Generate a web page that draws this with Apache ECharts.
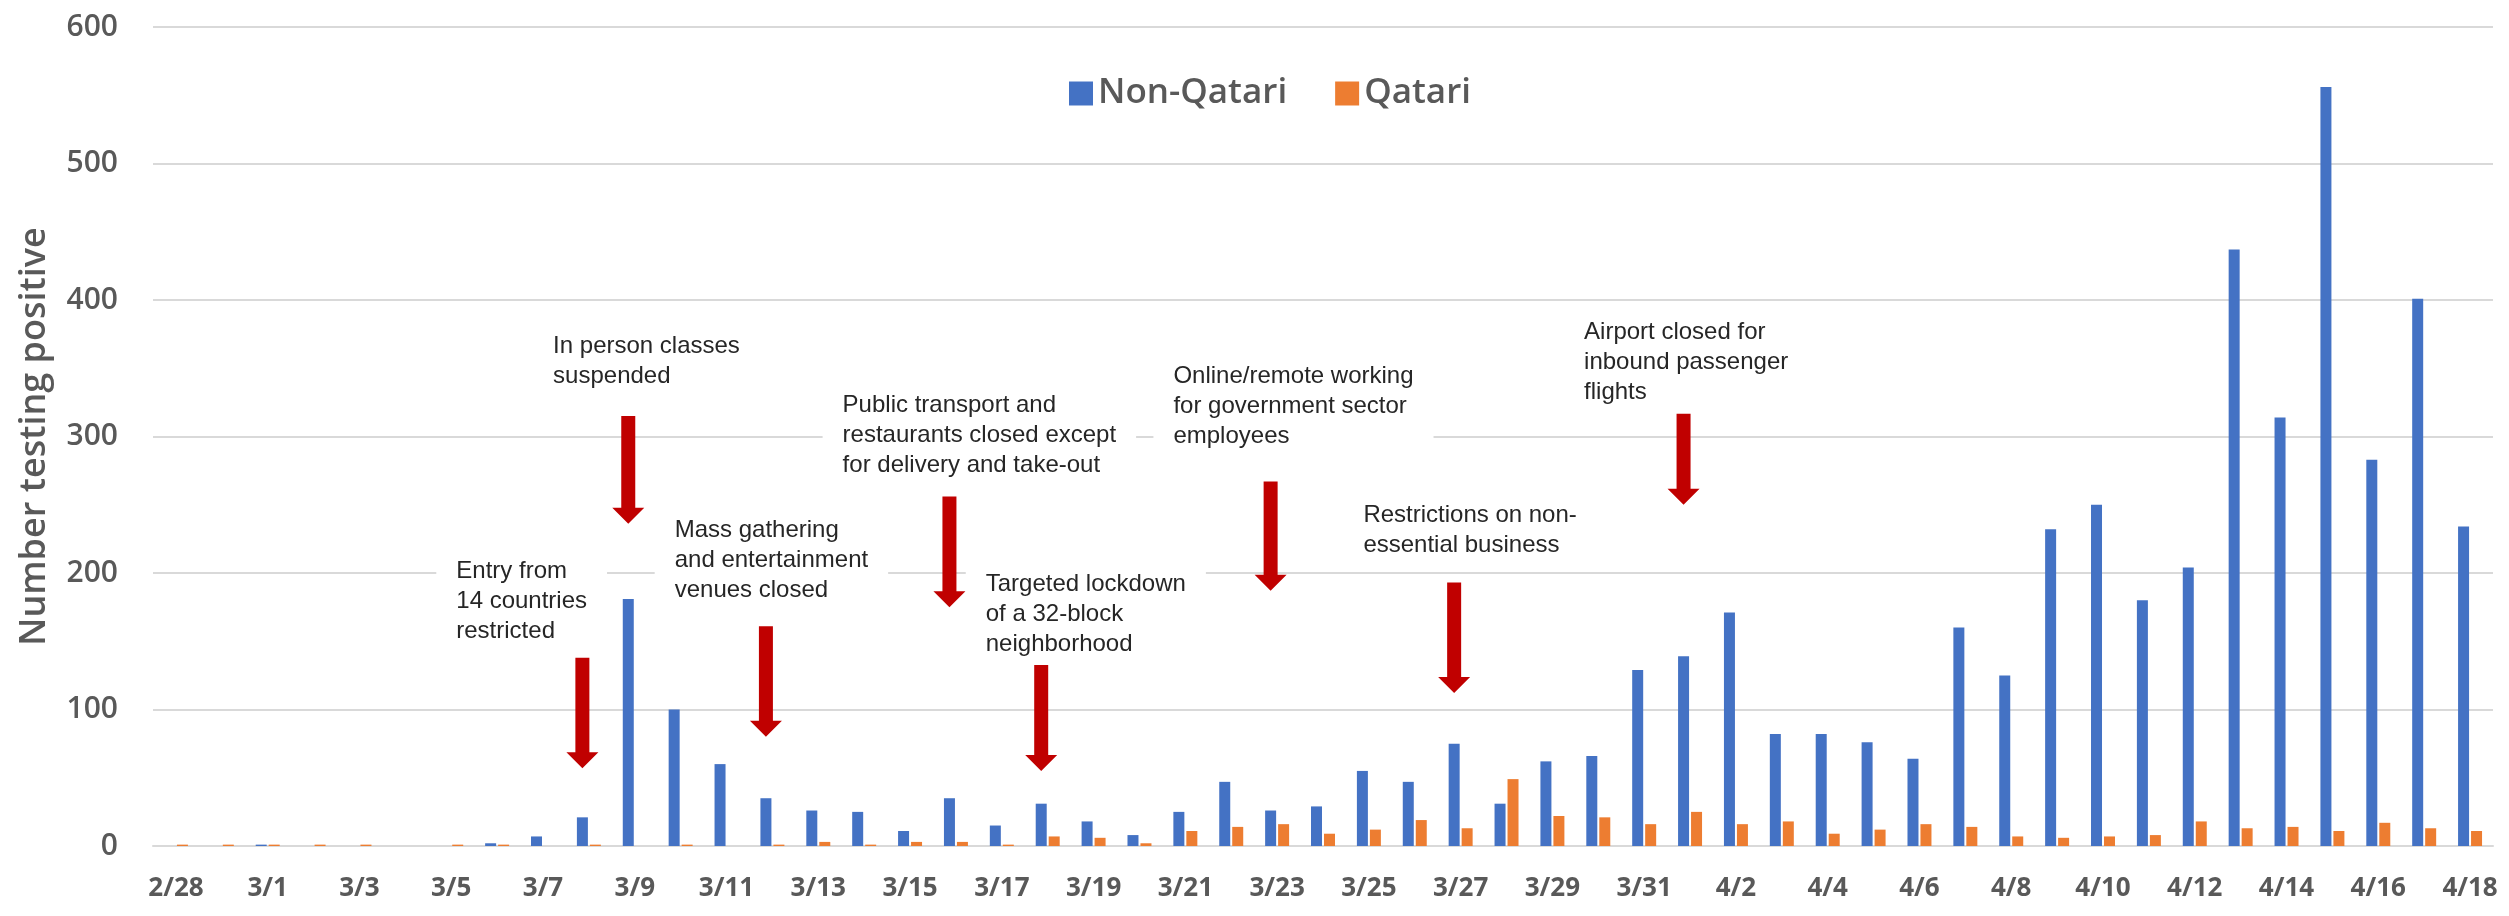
<!DOCTYPE html>
<html lang="en">
<head>
    <meta charset="UTF-8">
    <title>Qatar positive tests</title>
    <script src="https://cdn.jsdelivr.net/npm/echarts/dist/echarts.min.js"></script>
    <style>
        body { margin: 0; background: #fff; }
        #cc { width: 2509px; height: 916px; }
    </style>
</head>
<body>
<div id="cc"></div>
<script>
var dates = ['2/28', '2/29', '3/1', '3/2', '3/3', '3/4', '3/5', '3/6', '3/7', '3/8',
    '3/9', '3/10', '3/11', '3/12', '3/13', '3/14', '3/15', '3/16', '3/17', '3/18',
    '3/19', '3/20', '3/21', '3/22', '3/23', '3/24', '3/25', '3/26', '3/27', '3/28',
    '3/29', '3/30', '3/31', '4/1', '4/2', '4/3', '4/4', '4/5', '4/6', '4/7',
    '4/8', '4/9', '4/10', '4/11', '4/12', '4/13', '4/14', '4/15', '4/16', '4/17', '4/18'];

var nonQatari = [0, 0, 1, 0, 0, 0, 0, 2, 7, 21,
    181, 100, 60, 35, 26, 25, 11, 35, 15, 31,
    18, 8, 25, 47, 26, 29, 55, 47, 75, 31,
    62, 66, 129, 139, 171, 82, 82, 76, 64, 160,
    125, 232, 250, 180, 204, 437, 314, 556, 283, 401, 234];

var qatari = [1, 1, 1, 1, 1, 0, 1, 1, 0, 1,
    0, 1, 0, 1, 3, 1, 3, 3, 1, 7,
    6, 2, 11, 14, 16, 9, 12, 19, 13, 49,
    22, 21, 16, 25, 16, 18, 9, 12, 16, 14,
    7, 6, 7, 8, 18, 13, 14, 11, 17, 13, 11];

// policy events: date, arrow from/to (in cases), label left (in days from the date), label top (cases)
var eventDates = ['3/8', '3/9', '3/12', '3/16', '3/18', '3/23', '3/27', '4/1'];
var arrowFrom = [138, 315, 161, 256, 134, 267, 193, 331];
var arrowTo = [57, 236, 80, 175, 55, 187, 112, 250];
var labelShift = [-2.89, -1.78, -2.13, -2.47, -1.35, -2.26, -2.12, -2.31];
var labelTop = [212, 377, 242, 334, 203, 355, 253, 387];
var eventTexts = [
    'Entry from\n14 countries\nrestricted',
    'In person classes\nsuspended',
    'Mass gathering\nand entertainment\nvenues closed',
    'Public transport and\nrestaurants closed except\nfor delivery and take-out',
    'Targeted lockdown\nof a 32-block\nneighborhood',
    'Online/remote working\nfor government sector\nemployees',
    'Restrictions on non-\nessential business',
    'Airport closed for\ninbound passenger\nflights'
];

var events = eventDates.map(function (d, i) {
    return [dates.indexOf(d), arrowFrom[i], arrowTo[i], labelShift[i], labelTop[i]];
});

var BAR_W = 11;

function renderEvent(params, api) {
    var band = api.size([1, 0])[0];
    var idx = api.value(0);
    var top = api.coord([idx, api.value(1)]);
    var tip = api.coord([idx, api.value(2)]);
    var lab = api.coord([idx, api.value(4)]);
    var x = top[0] - (BAR_W + 2) / 2;
    var hw = 7, headW = 16, headH = 16;
    var by = tip[1] - headH;
    return {
        type: 'group',
        children: [{
            type: 'polygon',
            shape: {
                points: [[x - hw, top[1]], [x + hw, top[1]], [x + hw, by], [x + headW, by],
                    [x, tip[1]], [x - headW, by], [x - hw, by]]
            },
            style: { fill: '#C00000' }
        }, {
            type: 'text',
            x: lab[0] + api.value(3) * band - 20,
            y: lab[1] - 6,
            style: {
                text: eventTexts[params.dataIndex],
                fill: '#262626',
                font: '24px "Liberation Sans", Arial, sans-serif',
                lineHeight: 30,
                align: 'left',
                verticalAlign: 'top',
                backgroundColor: '#ffffff',
                padding: [6, 20, 6, 20]
            }
        }]
    };
}

var chart = echarts.init(document.getElementById('cc'));

chart.setOption({
    animation: false,
    textStyle: { fontFamily: '"Open Sans", sans-serif' },
    grid: { left: 153, right: 16, top: 27, bottom: 70 },
    legend: {
        left: 1064,
        top: 71,
        icon: 'rect',
        itemWidth: 24,
        itemHeight: 24,
        itemGap: 48,
        textStyle: { fontSize: 35, fontWeight: 600, color: '#595959' },
        data: ['Non-Qatari', 'Qatari']
    },
    xAxis: {
        type: 'category',
        data: dates,
        axisTick: { show: false },
        axisLine: { lineStyle: { color: '#d9d9d9', width: 2 } },
        axisLabel: {
            interval: 1,
            margin: 30,
            fontSize: 26,
            fontWeight: 'bold',
            color: '#595959'
        }
    },
    yAxis: {
        type: 'value',
        min: 0,
        max: 600,
        interval: 100,
        name: 'Number testing positive',
        nameLocation: 'middle',
        nameRotate: 90,
        nameGap: 100,
        nameTextStyle: { fontSize: 36, fontWeight: 600, color: '#595959' },
        axisLabel: { fontSize: 30, fontWeight: 600, color: '#595959', margin: 35 },
        splitLine: { lineStyle: { color: '#d9d9d9', width: 2 } }
    },
    series: [{
        name: 'Non-Qatari',
        type: 'bar',
        data: nonQatari,
        barWidth: BAR_W,
        barGap: '18%',
        itemStyle: { color: '#4472C4' }
    }, {
        name: 'Qatari',
        type: 'bar',
        data: qatari,
        barWidth: BAR_W,
        itemStyle: { color: '#ED7D31' }
    }, {
        name: 'events',
        type: 'custom',
        data: events,
        renderItem: renderEvent,
        silent: true,
        z: 5
    }]
});
</script>
</body>
</html>
